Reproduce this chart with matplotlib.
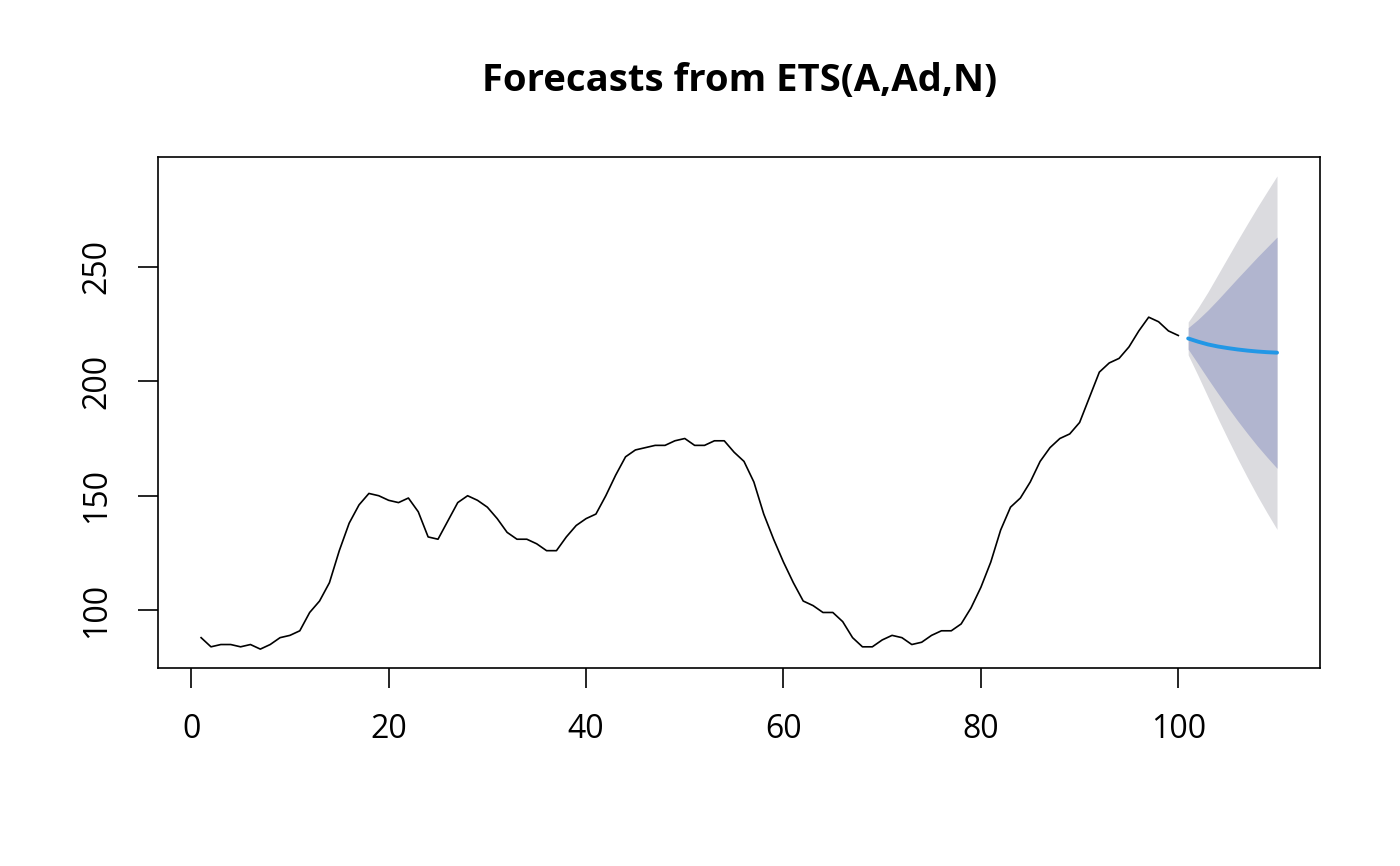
import numpy as np
import matplotlib.pyplot as plt

plt.rcParams['font.family'] = ['Open Sans', 'DejaVu Sans']

# WWWusage series
usage = [88, 84, 85, 85, 84, 85, 83, 85, 88, 89, 91, 99, 104, 112, 126, 138, 146, 151, 150, 148,
         147, 149, 143, 132, 131, 139, 147, 150, 148, 145, 140, 134, 131, 131, 129, 126, 126, 132, 137, 140,
         142, 150, 159, 167, 170, 171, 172, 172, 174, 175, 172, 172, 174, 174, 169, 165, 156, 142, 131, 121,
         112, 104, 102, 99, 99, 95, 88, 84, 84, 87, 89, 88, 85, 86, 89, 91, 91, 94, 101, 110,
         121, 135, 145, 149, 156, 165, 171, 175, 177, 182, 193, 204, 208, 210, 215, 222, 228, 226, 222, 220]

# forecast h = 1..10
fc = [218.7, 217.3, 216.1, 215.2, 214.5, 213.9, 213.4, 213.0, 212.7, 212.5]
lo80 = [214.0, 207.6, 201.1, 194.8, 188.7, 182.8, 177.2, 171.8, 166.8, 162.0]
hi80 = [223.4, 227.0, 231.1, 235.6, 240.3, 245.0, 249.6, 254.2, 258.6, 263.0]
lo95 = [211.5, 202.5, 193.2, 183.9, 175.0, 166.3, 158.0, 150.0, 142.5, 135.3]
hi95 = [225.9, 232.1, 239.0, 246.5, 254.0, 261.5, 268.8, 276.0, 282.9, 289.7]

t = np.arange(1, len(usage) + 1)
tf = np.arange(len(usage) + 1, len(usage) + len(fc) + 1)

fig = plt.figure(figsize=(14, 8.66), dpi=100)
ax = fig.add_axes([0.1129, 0.2286, 0.83, 0.5901])

ax.fill_between(tf, lo95, hi95, color='#dbdbdf', linewidth=0)
ax.fill_between(tf, lo80, hi80, color='#b1b5cf', linewidth=0)
ax.plot(t, usage, color='black', linewidth=1.2)
ax.plot(tf, fc, color='#2297e6', linewidth=2.8, solid_capstyle='round')

# R style 4% padding
xr = tf[-1] - t[0]
ax.set_xlim(t[0] - 0.04 * xr, tf[-1] + 0.04 * xr)
ymin = min(min(usage), min(lo95))
ymax = max(max(usage), max(hi95))
yr = ymax - ymin
ax.set_ylim(ymin - 0.04 * yr, ymax + 0.04 * yr)

ax.set_xticks([0, 20, 40, 60, 80, 100])
ax.set_yticks([100, 150, 200, 250])
ax.tick_params(direction='out', length=14.4, width=1.2, labelsize=23, pad=18)
ax.tick_params(axis='y', labelrotation=90)
for lab in ax.get_yticklabels():
    lab.set_verticalalignment('center')
for s in ax.spines.values():
    s.set_linewidth(1.2)

# title centred over the plot region, like R
fig.text(0.528, 0.906, 'Forecasts from ETS(A,Ad,N)', ha='center', va='center',
         fontsize=27.5, fontweight='bold')

fig.savefig('out.png', dpi=100)
